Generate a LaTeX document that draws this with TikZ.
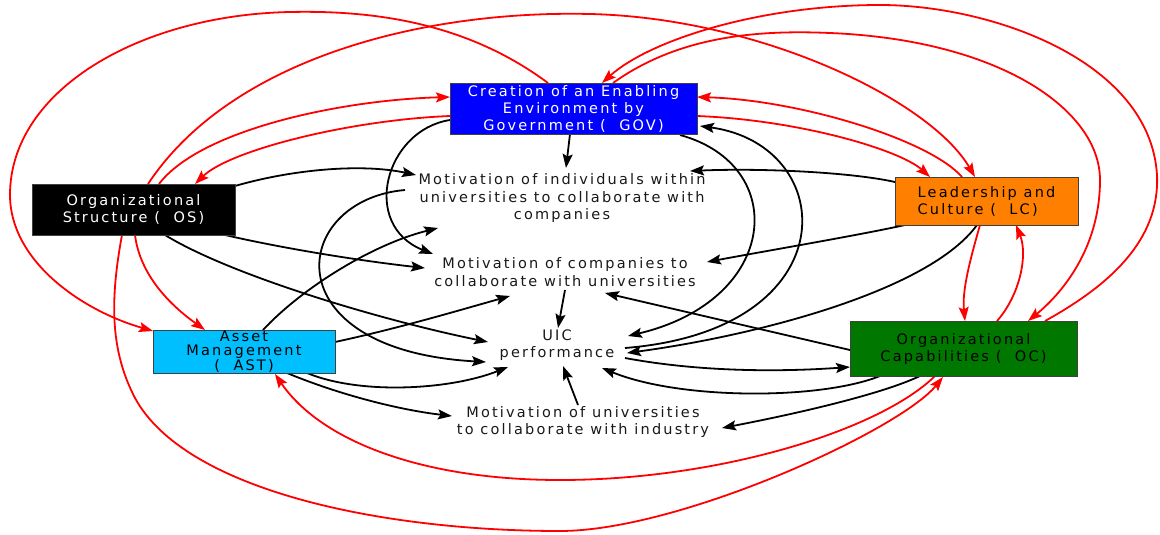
\documentclass[tikz,border=0pt]{standalone}
\usepackage{fontspec}
\usetikzlibrary{arrows.meta,backgrounds}
\newfontfamily\dvfont[LetterSpace=15]{DejaVu Sans}
\definecolor{govblue}{RGB}{0,0,255}
\definecolor{lcorange}{RGB}{255,128,0}
\definecolor{astcyan}{RGB}{0,191,255}
\definecolor{ocgreen}{RGB}{0,120,0}
\tikzset{
  conn/.style={line width=1.8pt, -{Stealth[length=14pt,width=10pt,inset=2.5pt]}},
  blk/.style={conn, draw=black},
  rd/.style={conn, draw=red},
  box/.style={draw=black!75, line width=0.6pt, inner sep=0pt, align=center,
    font=\dvfont\fontsize{14.5}{17}\selectfont},
  txt/.style={align=center, inner sep=0pt, text=black!90,
    font=\dvfont\fontsize{14.5}{17.5}\selectfont},
}
\begin{document}
\begin{tikzpicture}[x=1pt,y=-1pt]
\useasboundingbox (0,0) rectangle (1160,535);
% nodes
\node[box, fill=govblue, text=white, minimum width=247pt, minimum height=51pt] (GOV) at (573.5,108.5) {Creation of an Enabling\\Environment by\\Government (\ \ GOV)};
\node[box, fill=black, text=white, minimum width=203pt, minimum height=51pt] (OS) at (133.5,209.5) {Organizational\\Structure (\ \ OS)};
\node[box, fill=lcorange, text=black, align=left, minimum width=183pt, minimum height=48pt] (LC) at (986.5,201) {Leadership and\\Culture (\ \ LC)};
\node[box, fill=astcyan, text=black, minimum width=182pt, minimum height=43pt, font=\dvfont\fontsize{14.5}{14.5}\selectfont] (AST) at (244,351.5) {Asset\\Management\\(\ \ AST)};
\node[box, fill=ocgreen, text=black, minimum width=227pt, minimum height=55pt] (OC) at (963.5,348.5) {Organizational\\Capabilities (\ \ OC)};
\node[txt] (MI) at (562,198) {Motivation of individuals within\\universities to collaborate with\\companies};
\node[txt] (MC) at (565,272) {Motivation of companies to\\collaborate with universities};
\node[txt] (UIC) at (557,345) {UIC\\performance};
\node[txt] (MU) at (583,422) {Motivation of universities\\to collaborate with industry};
\begin{pgfonlayer}{background}
\fill[white] (0,0) rectangle (1160,535);
% black connectors
\draw[blk] ([shift={(-3.5,25.5)}]GOV.center) -- ([shift={(4,-30)}]MI.center);
\draw[blk] ([shift={(101.5,-23.5)}]OS.center) .. controls (290,170) and (360,163) .. ([shift={(-146,-23)}]MI.center);
\draw[blk] ([shift={(91.5,25.5)}]OS.center) .. controls (290,250) and (370,262) .. ([shift={(-140,-4)}]MC.center);
\draw[blk] ([shift={(31.5,25.5)}]OS.center) .. controls (230,275) and (380,320) .. ([shift={(-69,-3)}]UIC.center);
\draw[blk] ([shift={(-91.5,-19)}]LC.center) .. controls (850,172) and (760,168) .. ([shift={(128,-27)}]MI.center);
\draw[blk] ([shift={(-81.5,24)}]LC.center) .. controls (860,235) and (760,252) .. ([shift={(142,-10)}]MC.center);
\draw[blk] ([shift={(-9.5,24)}]LC.center) .. controls (930,290) and (760,335) .. ([shift={(70,8)}]UIC.center);
\draw[blk] ([shift={(-123.5,11.5)}]GOV.center) .. controls (385,130) and (360,225) .. ([shift={(-132,-18)}]MC.center);
\draw[blk] ([shift={(-157,-8)}]MI.center) .. controls (290,200) and (270,350) .. ([shift={(-71,17)}]UIC.center);
\draw[blk] ([shift={(106.5,26.5)}]GOV.center) .. controls (790,165) and (780,300) .. ([shift={(71,-9)}]UIC.center);
\draw[blk] ([shift={(68,3)}]UIC.center) .. controls (850,330) and (840,145) .. ([shift={(126.5,17.5)}]GOV.center);
\draw[blk] ([shift={(19,-21.5)}]AST.center) .. controls (300,290) and (370,245) .. ([shift={(-124,30)}]MI.center);
\draw[blk] ([shift={(91,-9.5)}]AST.center) .. controls (400,328) and (460,310) .. ([shift={(-55,24)}]MC.center);
\draw[blk] ([shift={(63,21.5)}]AST.center) .. controls (360,395) and (450,390) .. ([shift={(-49,22)}]UIC.center);
\draw[blk] ([shift={(43,21.5)}]AST.center) .. controls (340,395) and (400,410) .. ([shift={(-131,-6)}]MU.center);
\draw[blk] ([shift={(0,18)}]MC.center) -- ([shift={(1,-17)}]UIC.center);
\draw[blk] ([shift={(-5,-17)}]MU.center) -- ([shift={(6,21)}]UIC.center);
\draw[blk] ([shift={(68,13)}]UIC.center) .. controls (700,372) and (780,372) .. ([shift={(-113.5,18.5)}]OC.center);
\draw[blk] ([shift={(-83.5,27.5)}]OC.center) .. controls (820,400) and (680,400) .. ([shift={(45,23)}]UIC.center);
\draw[blk] ([shift={(-113.5,1.5)}]OC.center) -- ([shift={(40,21)}]MC.center);
\draw[blk] ([shift={(-43.5,27.5)}]OC.center) .. controls (880,395) and (790,415) .. ([shift={(139,6)}]MU.center);
% red connectors
\draw[rd] ([shift={(-25.5,-25.5)}]GOV.center) .. controls (470,25) and (380,10) .. (290,12) .. controls (140,15) and (10,90) .. (10,195) .. controls (10,260) and (80,310) .. ([shift={(-91,-20.5)}]AST.center);
\draw[rd] ([shift={(14.5,-25.5)}]OS.center) .. controls (230,60) and (420,10) .. (590,14) .. controls (760,18) and (930,100) .. ([shift={(-11.5,-24)}]LC.center);
\draw[rd] ([shift={(25.5,-25.5)}]OS.center) .. controls (200,130) and (340,100) .. ([shift={(-123.5,-11.5)}]GOV.center);
\draw[rd] ([shift={(-123.5,7.5)}]GOV.center) .. controls (350,120) and (230,150) .. ([shift={(61.5,-25.5)}]OS.center);
\draw[rd] ([shift={(123.5,7.5)}]GOV.center) .. controls (800,120) and (900,150) .. ([shift={(-56.5,-24)}]LC.center);
\draw[rd] ([shift={(-24.5,-24)}]LC.center) .. controls (930,140) and (800,100) .. ([shift={(123.5,-11.5)}]GOV.center);
\draw[rd] ([shift={(81.5,-27.5)}]OC.center) .. controls (1110,285) and (1160,240) .. (1157,175) .. controls (1150,60) and (990,5) .. (880,5) .. controls (760,5) and (650,40) .. ([shift={(28.5,-25.5)}]GOV.center);
\draw[rd] ([shift={(39.5,-25.5)}]GOV.center) .. controls (680,35) and (760,30) .. (830,33) .. controls (1000,40) and (1100,110) .. (1100,180) .. controls (1100,250) and (1060,295) .. ([shift={(64.5,-27.5)}]OC.center);
\draw[rd] ([shift={(-6.5,24)}]LC.center) .. controls (970,260) and (962,290) .. ([shift={(1.5,-27.5)}]OC.center);
\draw[rd] ([shift={(33.5,-27.5)}]OC.center) .. controls (1020,295) and (1028,255) .. ([shift={(29.5,24)}]LC.center);
\draw[rd] ([shift={(1.5,25.5)}]OS.center) .. controls (140,275) and (170,305) .. ([shift={(-39,-21.5)}]AST.center);
\draw[rd] ([shift={(-11.5,25.5)}]OS.center) .. controls (110,300) and (110,350) .. (135,398) .. controls (185,490) and (380,531) .. (560,531) .. controls (680,531) and (900,430) .. ([shift={(-20.5,28.5)}]OC.center);
\draw[rd] ([shift={(-28.5,27.5)}]OC.center) .. controls (880,430) and (720,480) .. (560,480) .. controls (420,480) and (320,440) .. ([shift={(31,22.5)}]AST.center);
\end{pgfonlayer}
\end{tikzpicture}
\end{document}
